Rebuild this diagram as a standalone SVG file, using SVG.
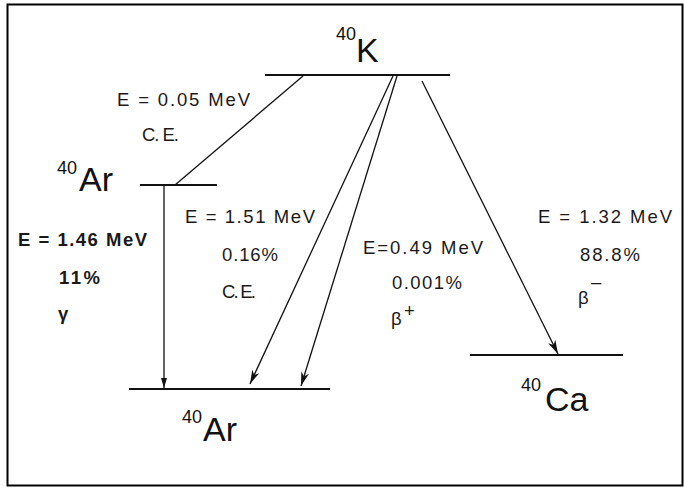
<svg xmlns="http://www.w3.org/2000/svg" width="684" height="488" viewBox="0 0 684 488">
<defs>
<style>
.lvl{stroke:#111;stroke-width:2;fill:none}
.con{stroke:#111;stroke-width:1.3;fill:none}
.t{font-family:"Liberation Sans",Arial,sans-serif;font-size:18.5px;fill:#1a1a1a}
.b{font-weight:bold}
.big{font-family:"Liberation Sans",Arial,sans-serif;font-size:34px;fill:#111}
.sup{font-family:"Liberation Sans",Arial,sans-serif;font-size:18px;fill:#111}
</style>
<marker id="ah" markerWidth="14" markerHeight="8" refX="14" refY="4" orient="auto" markerUnits="userSpaceOnUse">
<path d="M0,0 L14,4 L0,8 L4,4 Z" fill="#111"/>
</marker>
<marker id="ahs" markerWidth="10" markerHeight="6" refX="10" refY="3" orient="auto" markerUnits="userSpaceOnUse">
<path d="M0,0 L10,3 L0,6 Z" fill="#111"/>
</marker>
</defs>
<rect x="0" y="0" width="684" height="488" fill="#fff"/>
<rect x="7.5" y="4.5" width="675" height="481" fill="none" stroke="#000" stroke-width="2"/>

<g id="K40">
<line class="lvl" x1="265" y1="75" x2="450" y2="75"/>
<text class="sup" x="336" y="40">40</text>
<text class="big" x="356" y="62">K</text>
</g>

<g id="Ar40-excited">
<line class="lvl" x1="140" y1="185" x2="217" y2="185"/>
<text class="sup" x="57" y="174">40</text>
<text class="big" x="79" y="191">Ar</text>
</g>

<g id="Ar40-ground">
<line class="lvl" x1="129" y1="389" x2="330" y2="389"/>
<text class="sup" x="182" y="423">40</text>
<text class="big" x="203" y="441">Ar</text>
</g>

<g id="Ca40">
<line class="lvl" x1="470" y1="355" x2="623" y2="355"/>
<text class="sup" x="521" y="391">40</text>
<text class="big" x="545" y="411">Ca</text>
</g>

<g id="connectors">
<line class="con" x1="303" y1="76" x2="175" y2="185"/>
<line class="con" x1="164" y1="186" x2="164" y2="388" marker-end="url(#ahs)"/>
<line class="con" x1="393" y1="76" x2="250" y2="384" marker-end="url(#ah)"/>
<line class="con" x1="397" y1="76" x2="301" y2="386" marker-end="url(#ah)"/>
<line class="con" x1="422" y1="81" x2="558" y2="354" marker-end="url(#ah)"/>
</g>

<g id="label-ce-005">
<text class="t" x="117" y="106" textLength="133" lengthAdjust="spacing">E = 0.05 MeV</text>
<text class="t" x="142" y="141" textLength="37" lengthAdjust="spacing">C. E.</text>
</g>
<g id="label-gamma">
<text class="t b" x="18" y="246" textLength="129" lengthAdjust="spacing">E = 1.46 MeV</text>
<text class="t b" x="59" y="284" textLength="41" lengthAdjust="spacing">11%</text>
<text class="t b" x="58" y="320" font-size="21">γ</text>
</g>
<g id="label-ce-151">
<text class="t" x="185" y="223" textLength="130" lengthAdjust="spacing">E = 1.51 MeV</text>
<text class="t" x="222" y="261" textLength="56" lengthAdjust="spacing">0.16%</text>
<text class="t" x="222" y="298" textLength="34" lengthAdjust="spacing">C. E.</text>
</g>
<g id="label-beta-plus">
<text class="t" x="363" y="254" textLength="120" lengthAdjust="spacing">E=0.49 MeV</text>
<text class="t" x="392" y="289" textLength="70" lengthAdjust="spacing">0.001%</text>
<text class="t" x="391" y="325" font-size="20">β</text>
<text class="t" x="404" y="317" font-size="13">+</text>
</g>
<g id="label-beta-minus">
<text class="t" x="538" y="223" textLength="134" lengthAdjust="spacing">E = 1.32 MeV</text>
<text class="t" x="580" y="261" textLength="60" lengthAdjust="spacing">88.8%</text>
<text class="t" x="578" y="304" font-size="20">β</text>
<text class="t" x="591" y="288" font-size="14">–</text>
</g>
</svg>
